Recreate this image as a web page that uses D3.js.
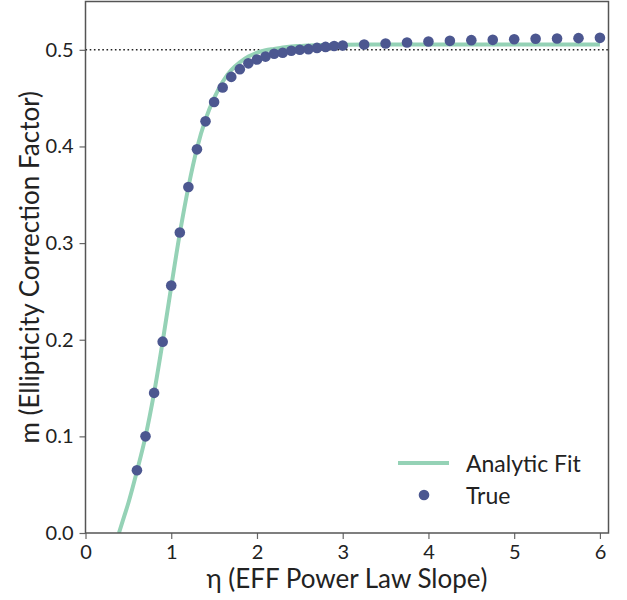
<!DOCTYPE html>
<html>
<head>
<meta charset="utf-8">
<script src="https://cdn.jsdelivr.net/npm/d3@7"></script>
<style>
  html, body { margin: 0; padding: 0; background: #fff; }
  svg { display: block; font-family: Lato, "Open Sans", sans-serif; }
</style>
</head>
<body>
<svg id="chart" width="627" height="600"></svg>
<script>
// ---- data ----
const trueEta = [0.6,0.7,0.8,0.9,1.0,1.1,1.2,1.3,1.4,1.5,1.6,1.7,1.8,1.9,2.0,2.1,2.2,2.3,2.4,2.5,2.6,2.7,2.8,2.9,3.0,
                 3.25,3.5,3.75,4.0,4.25,4.5,4.75,5.0,5.25,5.5,5.75,6.0];
const trueM   = [0.065,0.100,0.145,0.198,0.256,0.311,0.358,0.397,0.426,0.446,0.461,0.472,0.480,0.486,0.490,0.493,0.496,0.497,0.499,0.500,0.5007,0.502,0.503,0.504,0.5045,
                 0.5055,0.5066,0.5076,0.5086,0.5093,0.5100,0.5103,0.5110,0.5114,0.5117,0.5121,0.5124];
const fitEta  = [0.39,0.45,0.5,0.55,0.6,0.7,0.8,0.9,1.0,1.1,1.2,1.3,1.4,1.5,1.6,1.7,1.8,1.9,2.0,2.1,2.2,2.3,2.4,2.5,2.75,3.0,3.5,4.0,5.0,6.0];
const fitM    = [0.0,0.017,0.031,0.047,0.064,0.100,0.145,0.198,0.255,0.310,0.358,0.398,0.428,0.450,0.467,0.479,0.487,0.493,0.497,0.4995,0.501,0.5025,0.5035,0.504,0.505,0.5053,0.5055,0.5056,0.5056,0.5056];
const xTicks = [0,1,2,3,4,5,6];
const yTicks = [0.0,0.1,0.2,0.3,0.4,0.5];
const refLine = 0.5;
const xLabel = "η (EFF Power Law Slope)";
const yLabel = "m (Ellipticity Correction Factor)";
const legendLabels = ["Analytic Fit", "True"];

// ---- layout ----
const svg = d3.select("#chart");
const L = 85.5, R = 608.5, T = 1.5, B = 533;
const x = d3.scaleLinear().domain([0, 6.1]).range([L, R]);
const y = d3.scaleLinear().domain([0, 0.55]).range([B, T]);

const lineColor = "#95d2b6";
const dotColor = "#4c5790";

// clip
svg.append("defs").append("clipPath").attr("id", "clip")
  .append("rect").attr("x", L).attr("y", T).attr("width", R - L).attr("height", B - T);

const plot = svg.append("g").attr("clip-path", "url(#clip)");

// dotted reference line
plot.append("line")
  .attr("x1", L).attr("x2", R)
  .attr("y1", y(refLine)).attr("y2", y(refLine))
  .attr("stroke", "#222").attr("stroke-width", 1.6)
  .attr("stroke-dasharray", "1.6,2.6");

// fit line
const fitData = fitEta.map((e, i) => [e, fitM[i]]);
plot.append("path")
  .datum(fitData)
  .attr("fill", "none")
  .attr("stroke", lineColor)
  .attr("stroke-width", 4)
  .attr("d", d3.line().x(d => x(d[0])).y(d => y(d[1])).curve(d3.curveMonotoneX));

// true points
const trueData = trueEta.map((e, i) => [e, trueM[i]]);
svg.append("g").selectAll("circle")
  .data(trueData).enter().append("circle")
  .attr("cx", d => x(d[0])).attr("cy", d => y(d[1]))
  .attr("r", 5.3).attr("fill", dotColor);

// axes
const xAxis = d3.axisBottom(x).tickValues(xTicks).tickFormat(d3.format("d")).tickSize(6).tickPadding(6);
const yAxis = d3.axisLeft(y).tickValues(yTicks).tickFormat(d3.format(".1f")).tickSize(6).tickPadding(6);

const gx = svg.append("g").attr("transform", `translate(0,${B})`).call(xAxis);
const gy = svg.append("g").attr("transform", `translate(${L},0)`).call(yAxis);
[gx, gy].forEach(g => {
  g.select(".domain").remove();
  g.selectAll(".tick line").attr("stroke", "#666").attr("stroke-width", 1.2);
  g.selectAll(".tick text").attr("fill", "#222").style("font-size", "20px").style("font-family", "Lato, sans-serif");
});

// frame
svg.append("rect")
  .attr("x", L).attr("y", T).attr("width", R - L).attr("height", B - T)
  .attr("fill", "none").attr("stroke", "#555").attr("stroke-width", 1.5);

// axis labels
svg.append("text")
  .attr("x", (L + R) / 2).attr("y", 588)
  .attr("text-anchor", "middle")
  .attr("fill", "#222")
  .style("font-size", "26px")
  .text(xLabel);

svg.append("text")
  .attr("transform", `translate(39,${(T + B) / 2}) rotate(-90)`)
  .attr("text-anchor", "middle")
  .attr("fill", "#222")
  .style("font-size", "26px")
  .text(yLabel);

// legend
const lg = svg.append("g");
lg.append("line").attr("x1", 398).attr("x2", 449).attr("y1", 463).attr("y2", 463)
  .attr("stroke", lineColor).attr("stroke-width", 4);
lg.append("circle").attr("cx", 424).attr("cy", 495).attr("r", 5.3).attr("fill", dotColor);
lg.append("text").attr("x", 466).attr("y", 471.5).attr("fill", "#222").style("font-size", "23px").text(legendLabels[0]);
lg.append("text").attr("x", 466).attr("y", 503.5).attr("fill", "#222").style("font-size", "23px").text(legendLabels[1]);
</script>
</body>
</html>
